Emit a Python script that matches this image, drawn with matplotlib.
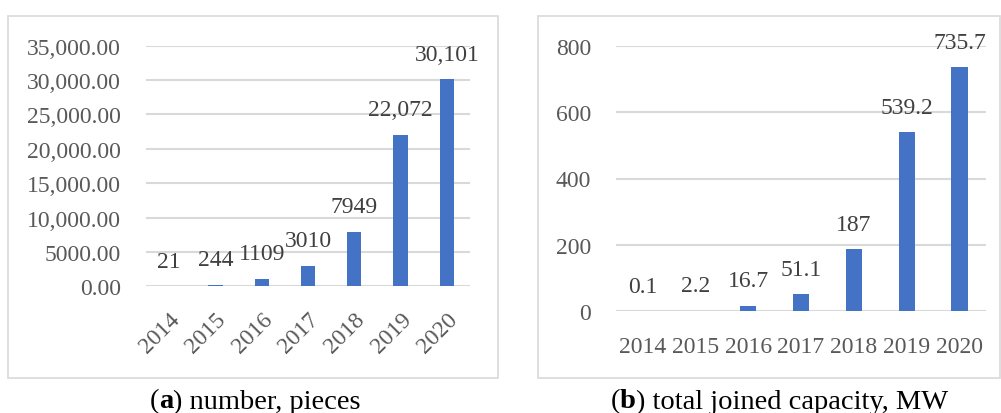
import matplotlib.pyplot as plt
from matplotlib.patches import Rectangle

years = ['2014', '2015', '2016', '2017', '2018', '2019', '2020']
pieces = [21, 244, 1109, 3010, 7949, 22072, 30101]
pieces_labels = ['21', '244', '1109', '3010', '7949', '22,072', '30,101']
capacity = [0.1, 2.2, 16.7, 51.1, 187, 539.2, 735.7]
capacity_labels = ['0.1', '2.2', '16.7', '51.1', '187', '539.2', '735.7']
left_yticks = [0, 5000, 10000, 15000, 20000, 25000, 30000, 35000]
left_yticklabels = ['0.00', '5000.00', '10,000.00', '15,000.00', '20,000.00',
                    '25,000.00', '30,000.00', '35,000.00']
right_yticks = [0, 200, 400, 600, 800]

plt.rcParams['font.family'] = ['Liberation Serif', 'DejaVu Serif']
BLUE = '#4472C4'
GRID = '#D9D9D9'
TXT = '#595959'
FS = 17

fig = plt.figure(figsize=(10.01, 4.14), dpi=100)

# panel borders
W, H = 1001, 414
for x0, x1 in [(8, 498), (538, 1000)]:
    fig.patches.append(Rectangle((x0 / W, 1 - 379 / H), (x1 - x0) / W, 362 / H,
                                 transform=fig.transFigure, fill=False,
                                 edgecolor=GRID, linewidth=1.2))

ax1 = fig.add_axes([146 / W, 1 - 287.3 / H, 324 / W, 240.6 / H])
ax2 = fig.add_axes([616 / W, 1 - 312.3 / H, 370 / W, 265.6 / H])

def style(ax, vals, labels, ymax, off):
    x = range(len(years))
    bars = ax.bar(x, vals, width=0.31, color=BLUE, zorder=3)
    ax.set_xlim(-0.5, len(years) - 0.5)
    ax.set_ylim(0, ymax)
    ax.yaxis.grid(True, color=GRID, linewidth=1.5, zorder=0)
    ax.set_axisbelow(True)
    for s in ax.spines.values():
        s.set_visible(False)
    ax.tick_params(length=0, labelsize=FS, labelcolor=TXT)
    for b, lab in zip(bars, labels):
        ax.annotate(lab, (b.get_x() + b.get_width() / 2, b.get_height()),
                    xytext=(0, off), textcoords='offset points',
                    ha='center', va='baseline', fontsize=FS, color='#404040')

style(ax1, pieces, pieces_labels, 35000, 14)
ax1.set_yticks(left_yticks)
ax1.set_yticklabels(left_yticklabels)
ax1.tick_params(axis='y', pad=18)
ax1.set_xticks(range(len(years)))
ax1.set_xticklabels(years, rotation=45, ha='right', va='top', rotation_mode='anchor')
ax1.tick_params(axis='x', pad=16)

style(ax2, capacity, capacity_labels, 800, 14)
ax2.set_yticks(right_yticks)
ax2.tick_params(axis='y', pad=18)
ax2.set_xticks(range(len(years)))
ax2.set_xticklabels(years)
ax2.tick_params(axis='x', pad=18)

# captions with bold letter
renderer = fig.canvas.get_renderer()
def caption(xc, parts):
    texts = []
    for s, w in parts:
        texts.append(fig.text(0, 1 - 402 / H, s, fontsize=20.5, fontweight=w,
                              va='center', ha='left', color='black'))
    widths = [t.get_window_extent(renderer).width for t in texts]
    x = xc - sum(widths) / 2
    for t, w in zip(texts, widths):
        t.set_x(x / W)
        x += w

caption(255, [('(', 'normal'), ('a', 'bold'), (') number, pieces', 'normal')])
caption(779, [('(', 'normal'), ('b', 'bold'), (') total joined capacity, MW', 'normal')])

fig.savefig('out.png', dpi=100)
